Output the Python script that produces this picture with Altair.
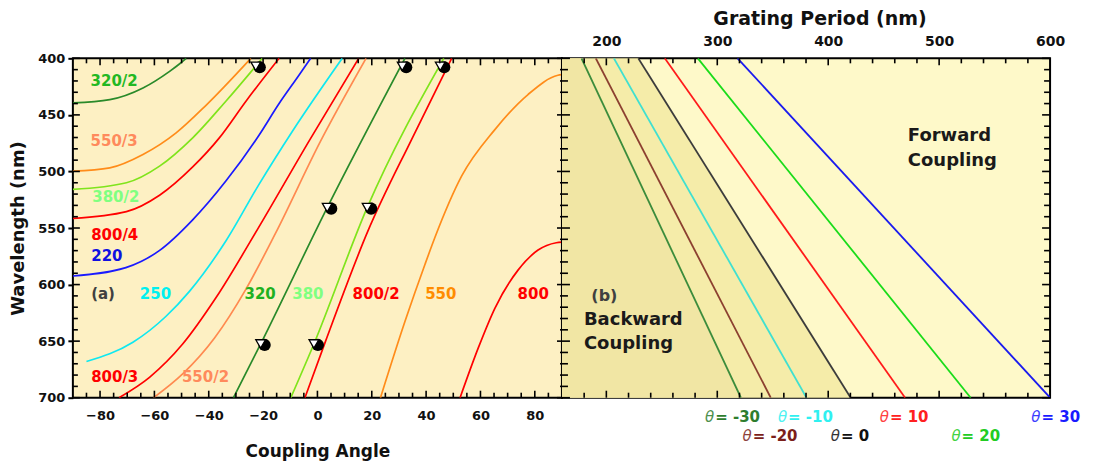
import altair as alt
import pandas as pd

FONT = "DejaVu Sans"
W_A, W_B, H = 490, 489, 340

# ---------------- Panel (a): coupling angle (deg) vs wavelength (nm) ----------------
c320_2_ang = [-90, -76.4, -64.2, -54.4, -50.8, -48.3]
c320_2_wl = [439.4, 436.5, 426.2, 411.5, 405, 400]
c550_3_ang = [-90, -76.4, -64.2, -52, -41, -24.5]
c550_3_wl = [499.7, 496.8, 485, 465.9, 441.5, 400]
c380_2_ang = [-90, -70.3, -58.1, -45.9, -33.7, -20.3]
c380_2_wl = [515.9, 510, 495.3, 470.3, 437.9, 400]
c800_4_ang = [-90, -70.3, -58.1, -45.9, -36.1, -26.3, -14.1]
c800_4_wl = [541.5, 535.5, 521, 496, 470.3, 437.9, 400]
c220_ang = [-90, -70.5, -58.2, -46, -33.7, -21.5, -14.1, -6.8, -2.5]
c220_wl = [592.4, 585, 570, 543, 508.5, 468, 440, 415, 400]
c250_ang = [-85, -67.9, -55.7, -47.1, -33.7, -21.5, -9.2, 9.1]
c250_wl = [668, 651, 628, 606, 561.5, 511.4, 464.4, 400]
c800_3_ang = [-73, -61.8, -49.6, -37.3, -22, -3.1, 15.2]
c800_3_wl = [700, 682, 652.6, 611.5, 551, 473.2, 400]
c550_2_ang = [-60.3, -49.6, -37.8, -26.3, -15.5, 1.2, 17.9]
c550_2_wl = [700, 679, 647, 604, 555, 473, 400]
c320_ang = [-30.9, -20.9, 3.6, 32.2]
c320_wl = [700, 652.5, 532, 400]
c380_ang = [-9.8, -1.3, 18.3, 46.5]
c380_wl = [700, 652.5, 532, 400]
c800_2_ang = [-4.6, 3.0, 18.6, 35, 49.4]
c800_2_wl = [700, 650, 552.6, 470, 400]
c550_ang = [23.2, 32.3, 39.6, 43.3, 53.1, 65.3, 77.5, 88.5, 90]
c550_wl = [700, 632, 582, 558, 504, 463, 432, 415, 414.4]
c800_ang = [52.5, 59.2, 65.3, 73.9, 81.2, 87.9, 90]
c800_wl = [700, 656, 621, 587, 569.5, 563, 562.5]

curve_names = ["320/2", "550/3", "380/2", "800/4", "220", "250", "800/3",
               "550/2", "320", "380", "800/2", "550", "800"]
curve_colors = ["#2a8a2a", "#ff8c1a", "#80e41c", "#ff0000", "#1a1aff", "#10e8f0",
                "#ff0000", "#ff8a50", "#2a8a2a", "#80e41c", "#ff0000", "#ff8c1a", "#ff0000"]
curve_angs = [c320_2_ang, c550_3_ang, c380_2_ang, c800_4_ang, c220_ang, c250_ang,
              c800_3_ang, c550_2_ang, c320_ang, c380_ang, c800_2_ang, c550_ang, c800_ang]
curve_wls = [c320_2_wl, c550_3_wl, c380_2_wl, c800_4_wl, c220_wl, c250_wl,
             c800_3_wl, c550_2_wl, c320_wl, c380_wl, c800_2_wl, c550_wl, c800_wl]

marker_ang = [-22.7, 31.2, 45.2, 3.6, 18.3, -20.9, -1.3]
marker_wl = [407, 407, 407, 532, 532, 652.5, 652.5]

a_label_text = ["320/2", "550/3", "380/2", "800/4", "220", "(a)", "250", "320", "380",
                "800/2", "550", "800", "800/3", "550/2"]
a_label_ang = [-74.8, -74.8, -74.2, -74.6, -77.5, -78.9, -59.6, -21.1, -3.5,
               21.6, 45.4, 79.4, -74.6, -41.2]
a_label_wl = [420.3, 473.2, 522.4, 556, 574.7, 608.5, 608.5, 608.5, 608.5,
              608.5, 608.5, 608.5, 682.1, 682.1]
a_label_col = ["#22b822", "#ff8a5c", "#80ff80", "#ff0000", "#1010e0", "#404040", "#00f0f0",
               "#20b020", "#80ff80", "#ff0000", "#ff8c00", "#ff0000", "#ff0000", "#ff8a5c"]

# ---------------- Panel (b): grating period (nm) vs wavelength (nm) ----------------
theta_vals = [-30, -20, -10, 0, 10, 20, 30]
period_at_400 = [177.6, 190.5, 206.8, 228.8, 252.7, 282.5, 318.3]
period_at_700 = [321.3, 348.2, 380.4, 420.2, 469.3, 528.4, 600.0]
theta_line_colors = ["#3c8c3c", "#8c4030", "#40e0d0", "#3c3c3c", "#ff1a1a", "#1adc1a", "#1a1aee"]
theta_label_colors = ["#2e7d2e", "#7b1f1a", "#30f0f0", "#101010", "#ff2020", "#22cc22", "#1a1aff"]
theta_label_text = ["= -30", "= -20", "= -10", "= 0", "= 10", "= 20", "= 30"]
theta_label_period = [298.1, 331.9, 363.8, 411.5, 455.6, 520.2, 592.3]
theta_label_wl = [716.8, 733.5, 716.8, 733.5, 716.8, 733.5, 716.8]

b_text_center = ["(b)"]
b_text_center_p = [198.2]
b_text_center_wl = [610]
b_text_left = ["Backward", "Coupling", "Forward", "Coupling"]
b_text_left_p = [179.8, 179.8, 471.8, 471.8]
b_text_left_wl = [631.4, 652.6, 468.8, 490.9]

# tick values
a_x_major = [-80, -60, -40, -20, 0, 20, 40, 60, 80]
a_x_minor = [v for v in range(-85, 90, 5) if v % 20 != 0]
wl_major = [400, 450, 500, 550, 600, 650, 700]
wl_minor = [v for v in range(410, 700, 10) if v % 50 != 0]
b_x_major = [200, 300, 400, 500]
b_x_minor = [v for v in range(180, 600, 20) if v % 100 != 0]

# ---------------- scales / axes ----------------
xa = alt.Scale(domain=[-90, 90], nice=False, zero=False)
xb = alt.Scale(domain=[160, 600], nice=False, zero=False)
ys = alt.Scale(domain=[400, 700], reverse=True, nice=False, zero=False)

AX_A_X = alt.Axis(values=a_x_major, title="Coupling Angle", ticks=False, domain=False, grid=False,
                  labelFont=FONT, labelFontSize=13, labelFontWeight="bold", labelColor="#111",
                  labelPadding=12, titleFont=FONT, titleFontSize=17, titleFontWeight="bold",
                  titleColor="#111", titlePadding=21, labelFlush=False)
AX_A_Y = alt.Axis(values=wl_major, title="Wavelength (nm)", ticks=True, tickSize=5, tickWidth=2,
                  tickColor="black", domain=False, grid=False,
                  labelFont=FONT, labelFontSize=13, labelFontWeight="bold", labelColor="#111",
                  labelPadding=3, titleFont=FONT, titleFontSize=18, titleFontWeight="bold",
                  titleColor="#111", titlePadding=10, labelFlush=False)
AX_B_X = alt.Axis(values=[200, 300, 400, 500, 600], orient="top", title="Grating Period (nm)",
                  ticks=False, domain=False, grid=False,
                  labelFont=FONT, labelFontSize=14, labelFontWeight="bold", labelColor="#111",
                  labelPadding=10, titleFont=FONT, titleFontSize=19, titleFontWeight="bold",
                  titleColor="#111", titlePadding=6, titleX=258, labelFlush=False)

# ---------------- panel (a) ----------------
rows = []
for name, col, angs, wls in zip(curve_names, curve_colors, curve_angs, curve_wls):
    for a, w in zip(angs, wls):
        rows.append({"curve": name, "col": col, "ang": a, "wl": w})
curves_df = pd.DataFrame(rows)

XA = lambda: alt.X("ang:Q", scale=xa, axis=AX_A_X)
YA = lambda: alt.Y("wl:Q", scale=ys, axis=AX_A_Y)

curves = alt.Chart(curves_df).mark_line(strokeWidth=1.7, interpolate="monotone", clip=True).encode(
    x=XA(), y=YA(),
    color=alt.Color("col:N", scale=None),
    detail="curve:N", order="ang:Q")

mk_df = pd.DataFrame({"ang": marker_ang, "wl": marker_wl})
mk_circle = alt.Chart(mk_df).mark_point(shape="circle", filled=True, color="black", size=150,
                                        opacity=1, xOffset=4, yOffset=1).encode(x=XA(), y=YA())
mk_tri = alt.Chart(mk_df).mark_point(shape="triangle-down", filled=True, fill="white", stroke="black",
                                     strokeWidth=1.3, size=95, opacity=1).encode(x=XA(), y=YA())

alab_df = pd.DataFrame({"text": a_label_text, "ang": a_label_ang, "wl": a_label_wl, "col": a_label_col})
alabels = alt.Chart(alab_df).mark_text(font=FONT, fontWeight="bold", fontSize=15, align="center",
                                       baseline="middle").encode(
    x=XA(), y=YA(), text="text:N", color=alt.Color("col:N", scale=None))


def xticks(vals, scale, axis, tick_len, top=True):
    fname = "ang" if scale is xa else "P"
    d = pd.DataFrame({fname: vals})
    y0 = 0 if top else H
    y1 = tick_len if top else H - tick_len
    return alt.Chart(d).mark_rule(color="black", strokeWidth=1.6).encode(
        x=alt.X(fname + ":Q", scale=scale, axis=axis), y=alt.value(y0), y2=alt.value(y1))


def yticks(vals, axis, x0, x1):
    d = pd.DataFrame({"wl": vals})
    return alt.Chart(d).mark_rule(color="black", strokeWidth=1.6).encode(
        y=alt.Y("wl:Q", scale=ys, axis=axis), x=alt.value(x0), x2=alt.value(x1))


a_ticks = [
    xticks(a_x_major, xa, AX_A_X, 7, True), xticks(a_x_minor, xa, AX_A_X, 5, True),
    xticks(a_x_major, xa, AX_A_X, 7, False), xticks(a_x_minor, xa, AX_A_X, 5, False),
    yticks(wl_major, AX_A_Y, 0, 7), yticks(wl_minor, AX_A_Y, 0, 5),
]

panel_a = alt.layer(curves, mk_circle, mk_tri, alabels, *a_ticks).properties(
    width=W_A, height=H,
    view=alt.ViewBackground(fill="#fdf0c3", stroke="black", strokeWidth=2))

# ---------------- panel (b) ----------------
XB = lambda: alt.X("P:Q", scale=xb, axis=AX_B_X)
YB = lambda: alt.Y("wl:Q", scale=ys, axis=None)

brows = []
for t, col, p4, p7 in zip(theta_vals, theta_line_colors, period_at_400, period_at_700):
    brows.append({"theta": str(t), "col": col, "P": p4, "wl": 400, "left": 160})
    brows.append({"theta": str(t), "col": col, "P": p7, "wl": 700, "left": 160})
blines_df = pd.DataFrame(brows)

region_back = alt.Chart(blines_df).transform_filter(alt.datum.theta == "0").mark_area(
    orient="horizontal", color="#f5eca9", opacity=1).encode(
    y=YB(), x=alt.X("left:Q", scale=xb, axis=AX_B_X), x2="P:Q")
region_far = alt.Chart(blines_df).transform_filter(alt.datum.theta == "-30").mark_area(
    orient="horizontal", color="#f1e6a4", opacity=1).encode(
    y=YB(), x=alt.X("left:Q", scale=xb, axis=AX_B_X), x2="P:Q")

blines = alt.Chart(blines_df).mark_line(strokeWidth=1.8, clip=True).encode(
    x=XB(), y=YB(),
    color=alt.Color("col:N", scale=None),
    detail="theta:N", order="wl:Q")

bc_df = pd.DataFrame({"text": b_text_center, "P": b_text_center_p, "wl": b_text_center_wl})
b_center = alt.Chart(bc_df).mark_text(font=FONT, fontWeight="bold", fontSize=16, align="center",
                                      baseline="middle", color="#404040").encode(
    x=XB(), y=YB(), text="text:N")
bl_df = pd.DataFrame({"text": b_text_left, "P": b_text_left_p, "wl": b_text_left_wl})
b_left = alt.Chart(bl_df).mark_text(font=FONT, fontWeight="bold", fontSize=18, align="left",
                                    baseline="middle", color="#1a1a1a").encode(
    x=XB(), y=YB(), text="text:N")

tl_df = pd.DataFrame({"text": theta_label_text, "P": theta_label_period, "wl": theta_label_wl,
                      "col": theta_label_colors})
t_rest = alt.Chart(tl_df).mark_text(font=FONT, fontWeight="bold", fontSize=15, align="left",
                                    baseline="middle").encode(
    x=XB(), y=YB(), text="text:N", color=alt.Color("col:N", scale=None))
t_theta = alt.Chart(tl_df).mark_text(font=FONT, fontStyle="italic", fontWeight="normal", fontSize=15,
                                     align="right", baseline="middle", dx=-1, opacity=0.85,
                                     text="\u03b8").encode(
    x=XB(), y=YB(), color=alt.Color("col:N", scale=None))


def yticks_b(vals, x0, x1):
    d = pd.DataFrame({"wl": vals})
    return alt.Chart(d).mark_rule(color="black", strokeWidth=1.6).encode(
        y=YB(), x=alt.value(x0), x2=alt.value(x1))


b_ticks = [
    xticks(b_x_major, xb, AX_B_X, 7, True), xticks(b_x_minor, xb, AX_B_X, 5, True),
    xticks(b_x_major, xb, AX_B_X, 7, False), xticks(b_x_minor, xb, AX_B_X, 5, False),
    yticks_b(wl_major, -5, 8), yticks_b(wl_minor, -2, 6),
    yticks_b(wl_major, W_B - 8, W_B), yticks_b(wl_minor, W_B - 6, W_B),
]

panel_b = alt.layer(region_back, region_far, blines, b_center, b_left, t_rest, t_theta, *b_ticks).properties(
    width=W_B, height=H,
    view=alt.ViewBackground(fill="#fef9c9", stroke="black", strokeWidth=2))

chart = alt.hconcat(panel_a, panel_b, spacing=0, bounds="flush").configure(
    font=FONT, padding={"left": 0, "top": 0, "right": 5, "bottom": 0}
).configure_view(stroke="black", strokeWidth=2)

chart.save("out.html", embed_options={"renderer": "svg", "actions": False})
